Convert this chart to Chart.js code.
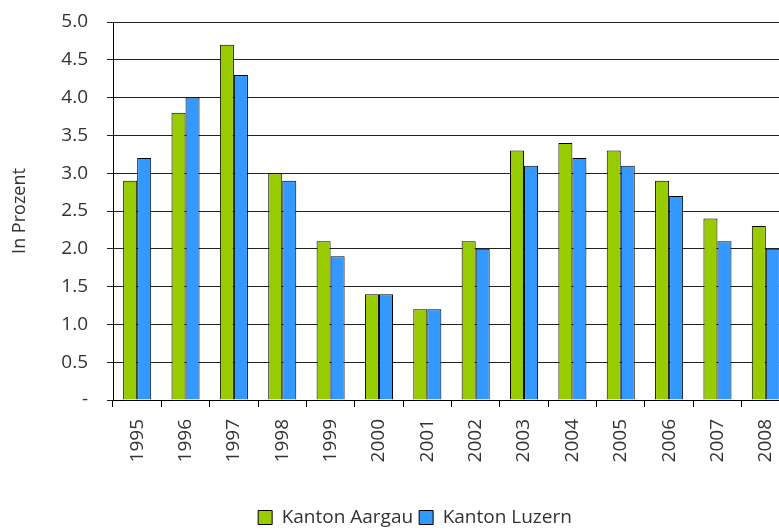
<!DOCTYPE html>
<html>
<head>
<meta charset="utf-8">
<script src="https://cdn.jsdelivr.net/npm/chart.js@4/dist/chart.umd.min.js"></script>
<style>
    html, body { margin: 0; padding: 0; background: #fff; overflow: hidden; }
    #wrap { width: 790px; height: 530px; }
</style>
</head>
<body>
<div id="wrap"><canvas id="rateChart"></canvas></div>
<script>
const years = ['1995', '1996', '1997', '1998', '1999', '2000', '2001', '2002', '2003', '2004', '2005', '2006', '2007', '2008'];
const aargau = [2.9, 3.8, 4.7, 3.0, 2.1, 1.4, 1.2, 2.1, 3.3, 3.4, 3.3, 2.9, 2.4, 2.3];
const luzern = [3.2, 4.0, 4.3, 2.9, 1.9, 1.4, 1.2, 2.0, 3.1, 3.2, 3.1, 2.7, 2.1, 2.0];

const FONT = '"Open Sans", Lato, sans-serif';

// move the legend a bit to the right and down like in the original
const legendShift = {
    id: 'legendShift',
    afterLayout(chart) {
        const lg = chart.legend;
        if (lg) {
            lg.left = 40;
            lg.right = 790;
            lg.top += 7;
            lg.bottom += 7;
        }
    }
};

const ctx = document.getElementById('rateChart').getContext('2d');

new Chart(ctx, {
    type: 'bar',
    data: {
        labels: years,
        datasets: [
            {
                label: 'Kanton Aargau',
                data: aargau,
                backgroundColor: '#99cc00',
                borderColor: '#000',
                borderWidth: 1
            },
            {
                label: 'Kanton Luzern',
                data: luzern,
                backgroundColor: '#3399ff',
                borderColor: '#000',
                borderWidth: 1
            }
        ]
    },
    options: {
        responsive: true,
        maintainAspectRatio: false,
        animation: false,
        categoryPercentage: 0.58,
        barPercentage: 1.0,
        layout: { padding: { top: 22, right: 0, left: 0, bottom: 0 } },
        plugins: {
            legend: {
                position: 'bottom',
                labels: {
                    font: { family: FONT, size: 19 },
                    color: '#333',
                    boxWidth: 14,
                    boxHeight: 14,
                    padding: 6
                }
            },
            tooltip: { enabled: false }
        },
        scales: {
            x: {
                afterFit: scale => {
                    scale.height = 95;
                    scale.paddingLeft = 0;
                    scale.paddingRight = 0;  // the plot runs off the right edge in the original
                },
                grid: {
                    offset: true,
                    drawOnChartArea: false,
                    drawTicks: true,
                    tickLength: 7,
                    color: '#000'
                },
                border: { color: '#000', width: 1 },
                ticks: {
                    minRotation: 90,
                    maxRotation: 90,
                    padding: 12,
                    color: '#333',
                    font: { family: FONT, size: 19 }
                }
            },
            y: {
                min: 0,
                max: 5,
                afterFit: scale => {
                    scale.width = 113;
                    scale.paddingTop = 8;  // tick padding would otherwise push the top down
                },
                grid: {
                    color: '#222',
                    lineWidth: 1,
                    tickLength: 6
                },
                border: { color: '#000', width: 1 },
                ticks: {
                    stepSize: 0.5,
                    padding: 19,
                    color: '#333',
                    font: { family: FONT, size: 19 },
                    callback: v => v === 0 ? '-' : v.toFixed(1)
                },
                title: {
                    display: true,
                    text: 'In Prozent',
                    color: '#333',
                    font: { family: FONT, size: 18 },
                    padding: { top: 9, bottom: 0 }
                }
            }
        }
    },
    plugins: [legendShift]
});
</script>
</body>
</html>
